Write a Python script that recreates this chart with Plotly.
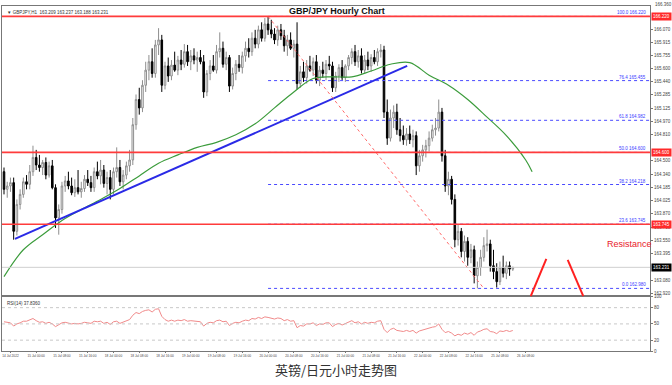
import plotly.graph_objects as go

# ---------------- data ----------------
opens = [164.37,164.16,164.20,164.24,163.66,163.98,164.10,164.25,164.22,164.37,
         164.54,164.45,164.42,164.48,164.33,164.44,164.18,163.82,163.92,164.20,
         164.26,164.20,164.12,164.18,164.13,164.17,164.28,164.24,164.18,164.37,
         164.32,164.39,164.23,164.30,164.16,164.37,164.42,164.25,164.33,164.44,
         164.51,164.93,165.23,165.13,165.40,165.58,165.68,165.54,165.88,165.94,
         165.40,165.63,165.51,165.64,165.58,165.70,165.65,165.80,165.68,165.75,
         165.70,165.73,165.68,165.32,165.54,165.63,165.58,165.80,165.84,165.65,
         165.73,165.39,165.54,165.65,165.61,165.75,165.84,165.80,165.96,165.89,
         166.06,165.96,166.13,166.06,166.01,165.94,166.06,165.99,165.87,165.94,
         165.84,165.89,165.42,165.56,165.49,165.63,165.58,165.68,165.46,165.58,
         165.54,165.65,165.63,165.37,165.51,165.61,165.49,165.63,165.73,165.80,
         165.68,165.75,165.58,165.70,165.63,165.73,165.68,165.80,165.82,165.08,
         164.77,165.01,165.08,164.87,164.80,164.75,164.82,164.75,164.80,164.44,
         164.56,164.63,164.68,164.77,164.87,164.89,165.08,164.56,164.20,164.28,
         164.04,163.56,163.66,163.42,163.54,163.35,163.44,163.13,163.23,163.35,
         163.49,163.51,163.25,163.18,163.06,163.23,163.16,163.25,163.209]
highs = [164.42,164.25,164.30,164.30,164.04,164.16,164.30,164.33,164.45,164.68,
         164.63,164.57,164.51,164.54,164.49,164.51,164.22,163.98,164.25,164.32,
         164.37,164.30,164.28,164.39,164.25,164.33,164.39,164.32,164.42,164.49,
         164.51,164.45,164.37,164.39,164.42,164.66,164.51,164.39,164.49,164.63,
         165.01,165.29,165.37,165.46,165.68,165.76,165.84,165.94,166.08,166.00,
         165.68,165.73,165.70,165.80,165.75,165.82,165.89,165.88,165.82,165.84,
         165.80,165.82,165.76,165.58,165.70,165.76,165.88,166.03,165.92,165.80,
         165.76,165.61,165.70,165.76,165.80,165.92,165.96,166.03,166.06,166.11,
         166.15,166.20,166.22,166.18,166.08,166.11,166.13,166.06,166.00,166.03,
         165.94,166.15,165.63,165.68,165.70,165.75,165.73,165.76,165.63,165.68,
         165.70,165.75,165.68,165.56,165.65,165.70,165.65,165.76,165.84,165.88,
         165.82,165.84,165.76,165.80,165.77,165.82,165.84,165.89,165.87,165.23,
         165.11,165.16,165.18,165.01,164.92,164.89,164.92,164.87,164.85,164.63,
         164.69,164.75,164.85,164.93,165.01,165.23,165.13,164.63,164.37,164.32,
         164.10,163.74,163.70,163.61,163.59,163.51,163.49,163.30,163.44,163.59,
         163.68,163.56,163.44,163.28,163.30,163.37,163.30,163.30,163.237]
lows = [164.10,164.06,164.13,163.56,163.61,163.92,164.06,164.16,164.16,164.32,
        164.39,164.37,164.33,164.28,164.30,164.16,163.70,163.62,163.87,164.13,
        164.16,164.09,164.07,164.10,164.06,164.13,164.20,164.13,164.13,164.28,
        164.22,164.18,164.10,164.04,164.10,164.30,164.20,164.16,164.28,164.37,
        164.45,164.87,165.05,165.08,165.32,165.46,165.49,165.49,165.76,165.32,
        165.35,165.44,165.46,165.56,165.52,165.58,165.61,165.63,165.58,165.65,
        165.56,165.65,165.25,165.27,165.46,165.56,165.54,165.73,165.61,165.58,
        165.32,165.35,165.46,165.56,165.54,165.68,165.73,165.75,165.84,165.84,
        165.92,165.92,166.00,165.96,165.89,165.87,165.94,165.80,165.75,165.82,
        165.73,165.35,165.37,165.44,165.42,165.56,165.51,165.42,165.39,165.49,
        165.46,165.58,165.32,165.32,165.44,165.46,165.44,165.58,165.65,165.63,
        165.61,165.54,165.54,165.58,165.56,165.65,165.63,165.73,165.01,164.69,
        164.73,164.89,164.81,164.73,164.69,164.68,164.70,164.66,164.33,164.37,
        164.49,164.54,164.61,164.73,164.80,164.85,164.49,164.13,164.09,163.98,
        163.47,163.49,163.35,163.30,163.25,163.28,163.04,162.98,163.13,163.30,
        163.42,163.18,163.09,162.99,163.02,163.11,163.09,163.13,163.188]
closes = [164.16,164.20,164.24,163.66,163.98,164.10,164.25,164.22,164.37,164.54,
          164.45,164.42,164.48,164.33,164.44,164.18,163.82,163.92,164.20,164.26,
          164.20,164.12,164.18,164.13,164.17,164.28,164.24,164.18,164.37,164.32,
          164.39,164.23,164.30,164.16,164.37,164.42,164.25,164.33,164.44,164.51,
          164.93,165.23,165.13,165.40,165.58,165.68,165.54,165.88,165.94,165.40,
          165.63,165.51,165.64,165.58,165.70,165.65,165.80,165.68,165.75,165.70,
          165.73,165.68,165.32,165.54,165.63,165.58,165.80,165.84,165.65,165.73,
          165.39,165.54,165.65,165.61,165.75,165.84,165.80,165.96,165.89,166.06,
          165.96,166.13,166.06,166.01,165.94,166.06,165.99,165.87,165.94,165.84,
          165.89,165.42,165.56,165.49,165.63,165.58,165.68,165.46,165.58,165.54,
          165.65,165.63,165.37,165.51,165.61,165.49,165.63,165.73,165.80,165.68,
          165.75,165.58,165.70,165.63,165.73,165.68,165.80,165.82,165.08,164.77,
          165.01,165.08,164.87,164.80,164.75,164.82,164.75,164.80,164.44,164.56,
          164.63,164.68,164.77,164.87,164.89,165.08,164.56,164.20,164.28,164.04,
          163.56,163.66,163.42,163.54,163.35,163.44,163.13,163.23,163.35,163.49,
          163.51,163.25,163.18,163.06,163.23,163.16,163.25,163.21,163.231]

rsi_values = [54,53,52,46,50,52,55,55,57,60,
              56,53,54,51,53,50,45,48,52,53,
              52,50,51,50,51,53,52,51,55,54,
              55,51,53,49,54,55,51,53,56,58,
              66,71,69,73,75,76,72,77,78,64,
              58,55,57,55,57,56,58,55,56,55,
              55,54,46,51,53,52,56,57,54,55,
              47,51,53,52,55,57,56,60,59,62,
              60,63,62,61,59,61,60,56,58,55,
              56,43,47,46,50,50,52,47,50,49,
              52,52,45,49,51,48,51,54,56,52,
              54,50,53,51,53,52,55,56,40,34,
              40,42,38,37,36,38,36,38,33,37,
              39,40,42,44,45,50,40,34,36,33,
              28,31,29,33,31,34,29,35,37,40,
              41,36,35,32,37,36,38,36,37.836]

# moving average (green) read at every 6th bar
ma_bars = [0,6,12,18,24,30,36,42,48,54,60,66,72,78,84,90,96,102,108,114,
           120,126,132,138,144,150,156,162,164]
ma_values = [163.12,163.44,163.62,163.79,163.92,164.04,164.17,164.32,164.47,164.57,
             164.66,164.72,164.81,164.94,165.13,165.32,165.48,165.50,165.50,165.57,
             165.65,165.67,165.52,165.40,165.23,165.02,164.80,164.51,164.37]

# blue trend line (two anchor bars)
trend_bars = [3.4, 125.2]
trend_prices = [163.57, 165.63]

# fibonacci swing
swing_high_bar, swing_high = 82, 166.220
swing_low_bar, swing_low = 149, 162.980
fib_ratios = [100.0, 76.4, 61.8, 50.0, 38.2, 23.6, 0.0]
red_ratios = [100.0, 50.0, 23.6]

# axis tick labels
top_price_label = "166.360"
price_ticks = ["166.070","165.915","165.755","165.600","165.440","165.285","165.125",
               "164.970","164.810","164.500","164.340","164.185","164.025","163.870",
               "163.710","163.550","163.395","163.080","162.920"]
time_labels = ["14 Jul 2022","15 Jul 00:00","15 Jul 08:00","15 Jul 16:00","18 Jul 00:00",
               "18 Jul 08:00","18 Jul 16:00","19 Jul 00:00","19 Jul 08:00","19 Jul 16:00",
               "20 Jul 00:00","20 Jul 08:00","20 Jul 16:00","21 Jul 00:00","21 Jul 08:00",
               "21 Jul 16:00","22 Jul 00:00","22 Jul 08:00","22 Jul 16:00","25 Jul 08:00",
               "26 Jul 08:00"]
time_label_bars = [2,10,18,26,34,42,50,58,66,74,82,90,98,106,114,122,130,138,146,154,162]
rsi_levels = [20, 50, 80]

# ---------------- figure ----------------
bars = list(range(len(closes)))
X_MIN, X_MAX = -0.62, 200.6
Y_MIN, Y_MAX = 162.896, 166.344

fig = go.Figure()

fig.add_trace(go.Candlestick(
    x=bars, open=opens, high=highs, low=lows, close=closes,
    increasing=dict(line=dict(color="#8e8e8e", width=1), fillcolor="white"),
    decreasing=dict(line=dict(color="black", width=1), fillcolor="black"),
    whiskerwidth=0, xaxis="x", yaxis="y", showlegend=False, hoverinfo="skip"))

fig.add_trace(go.Scatter(x=ma_bars, y=ma_values, mode="lines",
                         line=dict(color="#3c9c3c", width=1.2, shape="spline"),
                         xaxis="x", yaxis="y", showlegend=False, hoverinfo="skip"))

fig.add_trace(go.Scatter(x=trend_bars, y=trend_prices, mode="lines",
                         line=dict(color="#2a2ae6", width=2),
                         xaxis="x", yaxis="y", showlegend=False, hoverinfo="skip"))

fig.add_trace(go.Scatter(x=[swing_high_bar, swing_low_bar], y=[swing_high, swing_low],
                         mode="lines", line=dict(color="#ff6a6a", width=1, dash="dot"),
                         xaxis="x", yaxis="y", showlegend=False, hoverinfo="skip"))

fib_price = {r: swing_low + (swing_high - swing_low) * r / 100 for r in fib_ratios}

# red full-width levels
for r in red_ratios:
    fig.add_shape(type="line", xref="paper", x0=0, x1=1, yref="y",
                  y0=fib_price[r], y1=fib_price[r], line=dict(color="#ff3b3b", width=1.6))

# current price line
fig.add_shape(type="line", xref="paper", x0=0, x1=1, yref="y",
              y0=closes[-1], y1=closes[-1], line=dict(color="#cfcfcf", width=1))

# fib dotted lines + labels
for r in fib_ratios:
    p = fib_price[r]
    fig.add_trace(go.Scatter(x=[swing_high_bar, X_MAX], y=[p, p], mode="lines",
                             line=dict(color="#4a4aff", width=1, dash="dot"),
                             xaxis="x", yaxis="y", showlegend=False, hoverinfo="skip"))
    fig.add_annotation(x=X_MAX - 0.5, y=p, xref="x", yref="y", xanchor="right", yanchor="bottom",
                       text=f"{r:.1f} {p:.3f}", showarrow=False,
                       font=dict(size=4.5, color="#3b3bff", family="Liberation Sans"), yshift=-1)

# RSI
fig.add_trace(go.Scatter(x=bars, y=rsi_values, mode="lines",
                         line=dict(color="#f08a8a", width=1),
                         xaxis="x2", yaxis="y2", showlegend=False, hoverinfo="skip"))
for lv in rsi_levels:
    fig.add_shape(type="line", xref="x2", x0=X_MIN, x1=X_MAX, yref="y2", y0=lv, y1=lv,
                  line=dict(color="#c8c8c8", width=1, dash="dot"))

tick_vals = [float(t) for t in price_ticks]

fig.update_layout(
    width=672, height=385,
    margin=dict(l=2, r=22, t=6, b=34, autoexpand=False),
    paper_bgcolor="white", plot_bgcolor="white",
    font=dict(family="Liberation Sans", color="#333"),
    xaxis=dict(domain=[0, 1], range=[X_MIN, X_MAX], anchor="y", showticklabels=False,
               showline=True, mirror=True, linecolor="#777", linewidth=1, showgrid=False,
               zeroline=False, rangeslider=dict(visible=False), ticks="", automargin=False),
    yaxis=dict(domain=[0.161, 1], range=[Y_MIN, Y_MAX], side="right", anchor="x",
               tickvals=tick_vals, ticktext=price_ticks, tickfont=dict(size=4.5, color="#444"),
               ticks="outside", ticklen=2, tickcolor="#777", automargin=False,
               showline=True, mirror=True, linecolor="#777", linewidth=1,
               showgrid=False, zeroline=False),
    xaxis2=dict(domain=[0, 1], range=[X_MIN, X_MAX], anchor="y2", matches="x",
                tickvals=time_label_bars, ticktext=time_labels, tickangle=0,
                tickfont=dict(size=3.2, color="#444"), ticks="outside", ticklen=1, tickcolor="#777",
                showline=True, mirror=True, linecolor="#777", linewidth=1, automargin=False,
                showgrid=False, zeroline=False),
    yaxis2=dict(domain=[0, 0.157], range=[0, 100], side="right", anchor="x2",
                tickvals=[0, 20, 50, 80, 100], ticktext=["0", "20", "50", "80", "100"],
                tickfont=dict(size=4.5, color="#444"), ticks="outside", ticklen=2, tickcolor="#777",
                showline=True, mirror=True, linecolor="#777", linewidth=1, automargin=False,
                showgrid=False, zeroline=False),
)

# price boxes on the right axis
for r in red_ratios:
    fig.add_annotation(x=1.0, y=fib_price[r], xref="paper", yref="y", xanchor="left",
                       text=f"{fib_price[r]:.3f}", showarrow=False, bgcolor="#ff2a2a",
                       font=dict(size=4.5, color="white"), borderpad=1, xshift=1)
fig.add_annotation(x=1.0, y=closes[-1], xref="paper", yref="y", xanchor="left",
                   text=f"{closes[-1]:.3f}", showarrow=False, bgcolor="black",
                   font=dict(size=4.5, color="white"), borderpad=1, xshift=1)
fig.add_annotation(x=1.0, y=1.0, xref="paper", yref="paper", xanchor="left", yanchor="middle",
                   text=top_price_label, showarrow=False, xshift=3, yshift=2,
                   font=dict(size=4.5, color="#444"))

# texts
fig.add_annotation(x=0.004, y=0.995, xref="paper", yref="paper", xanchor="left", yanchor="top",
                   text="▼ GBPJPY,H1  163.209 163.237 163.188 163.231", showarrow=False,
                   font=dict(size=4.5, color="#333"))
fig.add_annotation(x=0.004, y=0.152, xref="paper", yref="paper", xanchor="left", yanchor="top",
                   text="RSI(14) 37.8360", showarrow=False, font=dict(size=4.5, color="#333"))
fig.add_annotation(x=0.517, y=1.006, xref="paper", yref="paper", xanchor="center", yanchor="top",
                   text="<b>GBP/JPY Hourly Chart</b>", showarrow=False,
                   font=dict(size=9, color="#111", family="Liberation Sans"))
fig.add_annotation(x=0.515, y=-0.053, xref="paper", yref="paper", xanchor="center", yanchor="middle",
                   text="英镑/日元小时走势图", showarrow=False, borderpad=0,
                   font=dict(size=13, color="#333", family="Noto Sans CJK SC"))
fig.add_annotation(x=0.968, y=0.31, xref="paper", yref="paper", xanchor="center", yanchor="middle",
                   text="Resistance", showarrow=False, borderpad=0,
                   font=dict(size=9, color="#e8202a", family="Liberation Sans"))
fig.add_shape(type="line", xref="paper", yref="paper", x0=0.816, y0=0.159, x1=0.840, y1=0.267,
              line=dict(color="#ff2020", width=2))
fig.add_shape(type="line", xref="paper", yref="paper", x0=0.873, y0=0.264, x1=0.897, y1=0.159,
              line=dict(color="#ff2020", width=2))

fig.write_html("out.html", config={"displayModeBar": False},
               post_script="document.body.style.margin='0';document.body.style.padding='0';")
